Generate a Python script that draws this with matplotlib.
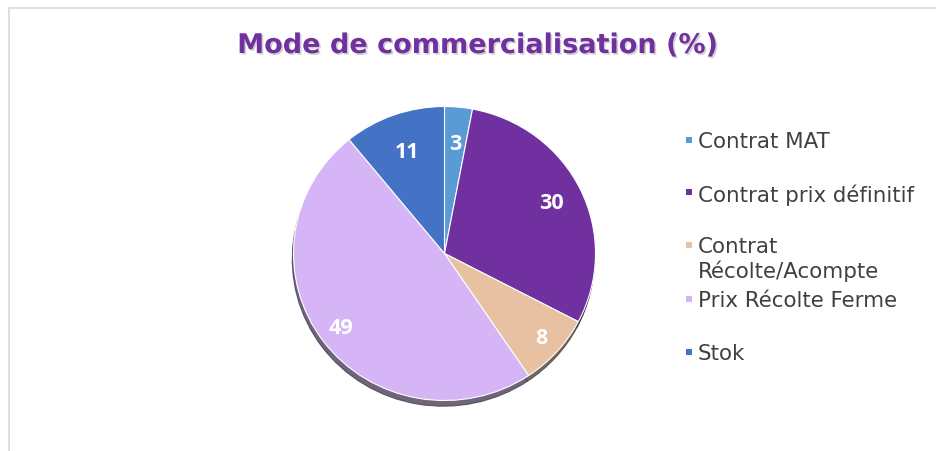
import numpy as np
import matplotlib
matplotlib.use("Agg")
import matplotlib.pyplot as plt
from matplotlib import patheffects as pe
from matplotlib.patches import Rectangle

# ---- data ----
title = "Mode de commercialisation (%)"
categories = ["Contrat MAT", "Contrat prix définitif", "Contrat\nRécolte/Acompte",
              "Prix Récolte Ferme", "Stok"]
values = [3, 30, 8, 49, 11]
colors = ["#5B9BD5", "#7030A0", "#E8C0A2", "#D5B5F5", "#4472C4"]

W, H = 936, 452
fig = plt.figure(figsize=(W / 100, H / 100), dpi=100)
fig.patch.set_facecolor("white")

def fx(px):
    return px / W

def fy(py):
    return 1 - py / H

# chart border
fig.patches.append(Rectangle((fx(8.5), -0.05), 1.2, fy(8.5) + 0.05,
                             transform=fig.transFigure, fill=False,
                             edgecolor="#D9D9D9", linewidth=1.2))

# title
fig.text(fx(478), fy(47), title, ha="center", va="center",
         fontsize=19.5, fontweight="bold", color="#7030A0",
         family="DejaVu Sans",
         path_effects=[pe.withSimplePatchShadow(offset=(1.2, -1.2),
                                                shadow_rgbFace="#808080",
                                                alpha=0.35)])

# pie axes
cx, cy, rx, ry = 444.5, 254.5, 151, 147
ax = fig.add_axes([fx(cx - rx), fy(cy + ry), fx(2 * rx), (2 * ry) / H])
wedges, _ = ax.pie(values, colors=colors, startangle=90, counterclock=False,
                   wedgeprops=dict(edgecolor="white", linewidth=0.8),
                   shadow=dict(ox=-0.006, oy=-0.028, shade=0.65, alpha=0.8))
ax.set_aspect("auto")
ax.set_xlim(-1, 1)
ax.set_ylim(-1, 1)
ax.axis("off")

label_r = [0.75, 0.79, 0.86, 0.85, 0.74]
for w, v, r in zip(wedges, values, label_r):
    th = np.deg2rad((w.theta1 + w.theta2) / 2)
    ax.text(r * np.cos(th), r * np.sin(th), str(v), ha="center", va="center",
            color="white", fontsize=15.5, fontweight="bold", family="Open Sans")

# legend
slot_y = [141, 193, 246, 299.5, 353]
for lab, col, y in zip(categories, colors, slot_y):
    fig.patches.append(Rectangle((fx(686), fy(y + 3)), fx(6), 6 / H,
                                 transform=fig.transFigure, facecolor=col,
                                 edgecolor="none"))
    fig.text(fx(698), fy(y - 8.8), lab, ha="left", va="top",
             fontsize=15.4, color="#404040", family="DejaVu Sans",
             linespacing=1.2)

fig.savefig("out.png", dpi=100, facecolor="white")
